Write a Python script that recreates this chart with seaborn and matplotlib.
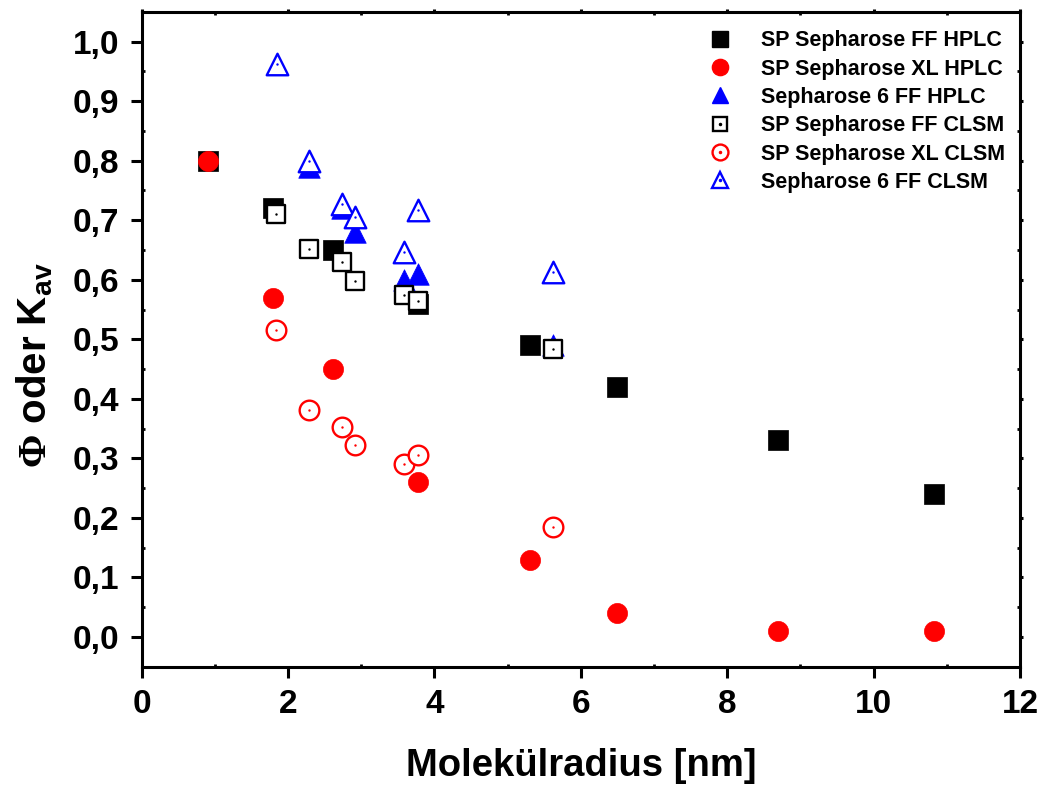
import numpy as np
import pandas as pd
import matplotlib
matplotlib.use("Agg")
import matplotlib.pyplot as plt
from matplotlib.lines import Line2D
from matplotlib.legend_handler import HandlerTuple
from matplotlib.ticker import MultipleLocator, FuncFormatter
import seaborn as sns

# Molecular radius [nm] and partition coefficients
x_hplc = [0.91, 1.79, 2.62, 3.78, 5.30, 6.49, 8.69, 10.82]
ff_hplc = [0.80, 0.72, 0.65, 0.56, 0.49, 0.42, 0.33, 0.24]
xl_hplc = [0.80, 0.57, 0.45, 0.26, 0.13, 0.04, 0.01, 0.01]

x_6ff_hplc = [2.29, 2.73, 2.92, 3.58, 3.78, 5.62]
s6ff_hplc = [0.79, 0.72, 0.68, 0.60, 0.61, 0.49]

x_clsm = [1.84, 2.29, 2.73, 2.92, 3.58, 3.78, 5.62]
ff_clsm = [0.71, 0.652, 0.629, 0.598, 0.575, 0.564, 0.483]
xl_clsm = [0.515, 0.381, 0.353, 0.323, 0.290, 0.305, 0.184]
x_6ff_clsm = [1.85, 2.29, 2.73, 2.92, 3.78, 3.58, 5.62]
s6ff_clsm = [0.963, 0.80, 0.727, 0.706, 0.718, 0.646, 0.613]

labels = ["SP Sepharose FF HPLC", "SP Sepharose XL HPLC", "Sepharose 6 FF HPLC",
          "SP Sepharose FF CLSM", "SP Sepharose XL CLSM", "Sepharose 6 FF CLSM"]

sns.set_theme(style="ticks")
plt.rcParams["font.family"] = ["Liberation Sans", "DejaVu Sans"]
plt.rcParams["font.weight"] = "bold"
plt.rcParams["text.color"] = "black"
plt.rcParams["axes.labelcolor"] = "black"
plt.rcParams["xtick.color"] = "black"
plt.rcParams["ytick.color"] = "black"
plt.rcParams["mathtext.fontset"] = "custom"
plt.rcParams["mathtext.rm"] = "Liberation Serif"
plt.rcParams["mathtext.bf"] = "Liberation Sans:bold"

fig = plt.figure(figsize=(10.43, 7.87), dpi=100)
ax = fig.add_axes([0.1359, 0.1529, 0.842, 0.832])

series = [
    (x_hplc, ff_hplc, "s", "black", True, 190),
    (x_hplc, xl_hplc, "o", "red", True, 210),
    (x_6ff_hplc, s6ff_hplc, "^", "blue", True, 240),
    (x_clsm, ff_clsm, "s", "black", False, 170),
    (x_clsm, xl_clsm, "o", "red", False, 200),
    (x_6ff_clsm, s6ff_clsm, "^", "blue", False, 240),
]

for xs, ys, mk, col, filled, size in series:
    df = pd.DataFrame({"x": xs, "y": ys})
    if filled:
        sns.scatterplot(data=df, x="x", y="y", marker=mk, s=size, color=col,
                        edgecolor=col, linewidth=0.5, ax=ax, zorder=3)
    else:
        sns.scatterplot(data=df, x="x", y="y", marker=mk, s=size, facecolor="white",
                        edgecolor=col, linewidth=1.7, ax=ax, zorder=3)
        sns.scatterplot(data=df, x="x", y="y", marker="o", s=3, color=col,
                        edgecolor=col, linewidth=0, ax=ax, zorder=4)

ax.set_xlim(0, 12)
ax.set_ylim(-0.05, 1.05)
ax.xaxis.set_major_locator(MultipleLocator(2))
ax.xaxis.set_minor_locator(MultipleLocator(1))
ax.yaxis.set_major_locator(MultipleLocator(0.1))
ax.yaxis.set_minor_locator(MultipleLocator(0.05))
ax.yaxis.set_major_formatter(FuncFormatter(lambda v, p: f"{v:.1f}".replace(".", ",").replace("-0,0", "0,0")))
ax.xaxis.set_major_formatter(FuncFormatter(lambda v, p: f"{v:.0f}"))

for sp in ax.spines.values():
    sp.set_linewidth(2.2)
    sp.set_color("black")
    sp.set_visible(True)
ax.tick_params(which="major", direction="out", length=8, width=2.2, labelsize=24,
               pad=8, colors="black")
ax.tick_params(which="minor", direction="in", length=2, width=2.0)
ax.tick_params(which="both", top=True, right=True)
for t in ax.xaxis.get_major_ticks():
    t.tick2line.set_markersize(2)
for t in ax.yaxis.get_major_ticks():
    t.tick2line.set_markersize(2)
for lab in ax.get_xticklabels() + ax.get_yticklabels():
    lab.set_fontweight("bold")

ax.set_xlabel("Molekülradius [nm]", fontsize=27.5, fontweight="bold", labelpad=20)
ax.set_ylabel(r"$\Phi$ oder K$_{\mathbf{av}}$", fontsize=29, fontweight="bold", labelpad=13)
ax.yaxis.label.set_y(0.46)

# legend with center dots on the open symbols
handles = []
for xs, ys, mk, col, filled, size in series:
    ms = np.sqrt(size) * (0.95 if mk != "^" else 0.9)
    if filled:
        handles.append(Line2D([], [], linestyle="none", marker=mk, markersize=ms * 0.85,
                              color=col, markeredgecolor=col))
    else:
        h1 = Line2D([], [], linestyle="none", marker=mk, markersize=ms * 0.85,
                    markerfacecolor="white", markeredgecolor=col, markeredgewidth=1.7)
        h2 = Line2D([], [], linestyle="none", marker="o", markersize=1.5, color=col)
        handles.append((h1, h2))

ax.legend(handles, labels, loc="upper right", frameon=False,
          handler_map={tuple: HandlerTuple(ndivide=1, pad=0)},
          prop={"family": "Liberation Sans", "weight": "bold", "size": 15.5},
          labelspacing=0.34, handletextpad=0.9, borderaxespad=0.3,
          bbox_to_anchor=(1.0, 0.995))

fig.savefig("out.png", dpi=100)
